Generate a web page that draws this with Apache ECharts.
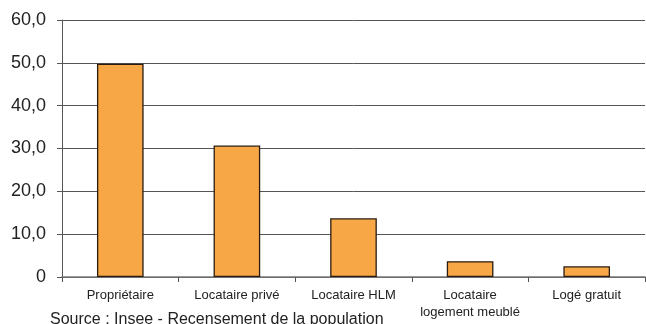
<!DOCTYPE html>
<html><head><meta charset="utf-8">
<script src="https://cdn.jsdelivr.net/npm/echarts@6/dist/echarts.min.js"></script>
<style>html,body{margin:0;padding:0;background:#fff}#c{width:646px;height:324px}</style>
</head><body><div id="c"></div>
<script>
const categories = ['Propriétaire', 'Locataire privé', 'Locataire HLM', 'Locataire\nlogement meublé', 'Logé gratuit'];
const values = [49.8, 30.7, 13.7, 3.7, 2.5];
const yTicks = [0, 10, 20, 30, 40, 50, 60];
const sourceText = 'Source : Insee - Recensement de la population';

const chart = echarts.init(document.getElementById('c'));
chart.setOption({
  animation: false,
  textStyle: { fontFamily: 'Liberation Sans, Arial, sans-serif' },
  grid: { left: 62, right: 1, top: 20, bottom: 47 },
  xAxis: {
    type: 'category', data: categories,
    axisLine: { lineStyle: { color: '#777', width: 1.5 } },
    axisTick: { show: true, length: 5, lineStyle: { color: '#555' } },
    axisLabel: { color: '#222', fontSize: 13, margin: 10, lineHeight: 17, interval: 0 }
  },
  yAxis: {
    type: 'value', min: yTicks[0], max: yTicks[yTicks.length - 1], interval: 10,
    axisLine: { show: true, lineStyle: { color: '#555', width: 1 } },
    axisTick: { show: true, length: 5, lineStyle: { color: '#555' } },
    splitLine: { lineStyle: { color: '#555', width: 1 } },
    axisLabel: { color: '#222', fontSize: 18, margin: 16,
      formatter: v => v === 0 ? '0' : v.toFixed(1).replace('.', ',') }
  },
  series: [{
    type: 'bar', data: values, barWidth: '40%',
    itemStyle: { color: '#F8A746', borderColor: '#2a1c10', borderWidth: 1.3 }
  }],
  graphic: [{
    type: 'text', left: 50, top: 312,
    style: { text: sourceText, fontSize: 16, fill: '#222', fontFamily: 'Liberation Sans, Arial, sans-serif' }
  }]
});
</script></body></html>
